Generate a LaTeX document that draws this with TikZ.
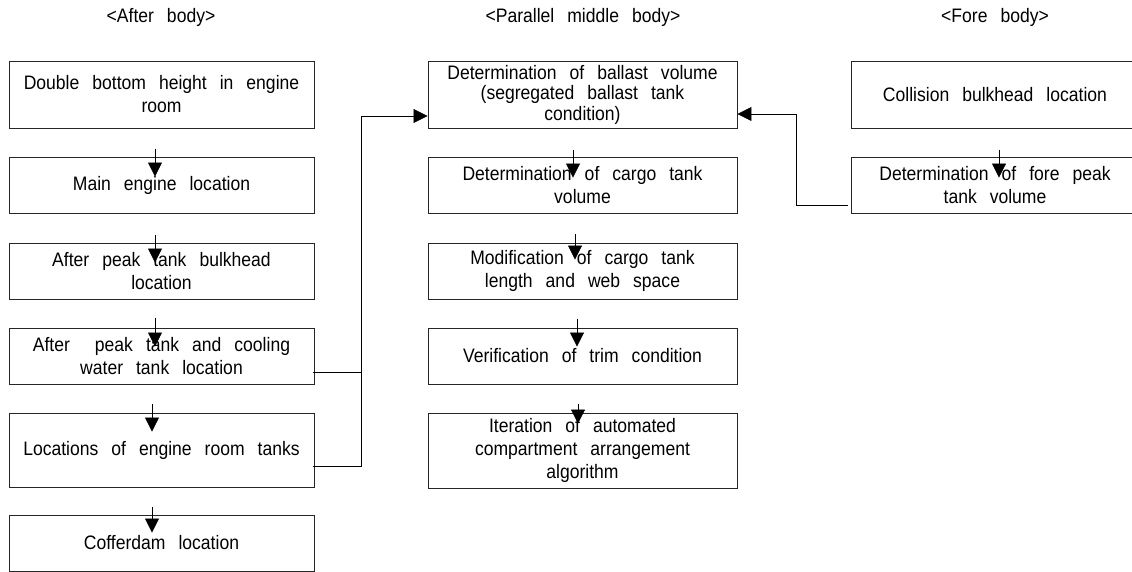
\documentclass[tikz,border=0pt]{standalone}
\usepackage{fontspec}
\setmainfont[FakeStretch=0.9]{Liberation Sans}
\usetikzlibrary{arrows.meta,calc}
\tikzset{
  box/.style={draw=black!85, line width=0.9pt, rectangle, inner sep=0pt, align=center,
    font={\fontsize{19.5}{23}\selectfont\spaceskip=13pt plus 2pt minus 2pt}},
  lbox/.style={box, minimum width=305pt},
  mbox/.style={box, minimum width=309pt},
  rbox/.style={box, minimum width=288pt},
  hdr/.style={inner sep=0pt, font={\fontsize{19.5}{22}\selectfont\spaceskip=13pt plus 2pt minus 2pt}},
  arr/.style={line width=0.8pt, -{Triangle[width=14pt,length=14pt]}},
  conn/.style={line width=0.8pt},
}
\begin{document}
\begin{tikzpicture}[x=1pt,y=-1pt]
\useasboundingbox[fill=white] (0,0) rectangle (1132,572);
\begin{scope}
\clip (0,0) rectangle (1132,572);
% headers
\node[hdr] (h1) at (161,17) {<After body>};
\node[hdr] (h2) at (583,17) {<Parallel middle body>};
\node[hdr] (h3) at (995,17) {<Fore body>};
% left column
\node[lbox, minimum height=67pt] (B1) at (161.5,94.5) {Double bottom height in engine\\room};
\node[lbox, minimum height=56pt] (B2) at (161.5,185) {Main engine location};
\node[lbox, minimum height=56pt] (B3) at (161.5,271) {After peak tank bulkhead\\location};
\node[lbox, minimum height=56pt] (B4) at (161.5,356) {After\hspace{12pt} peak tank and cooling\\water tank location};
\node[lbox, minimum height=74pt] (B5) at (161.5,450) {Locations of engine room tanks};
\node[lbox, minimum height=56pt] (B6) at (161.5,543) {Cofferdam location};
% middle column
\node[mbox, minimum height=67pt, font={\fontsize{19.5}{20.5}\selectfont\spaceskip=13pt plus 2pt minus 2pt}] (M1) at (582.5,94.5) {Determination of ballast volume\\(segregated ballast tank\\condition)};
\node[mbox, minimum height=56pt] (M2) at (582.5,185) {Determination of cargo tank\\volume};
\node[mbox, minimum height=56pt] (M3) at (582.5,271) {Modification of cargo tank\\length and web space};
\node[mbox, minimum height=56pt] (M4) at (582.5,356) {Verification of trim condition};
\node[mbox, minimum height=75pt] (M5) at (582.5,450.5) {Iteration of automated\\compartment arrangement\\algorithm};
% right column
\node[rbox, minimum height=67pt] (R1) at (995,94.5) {Collision bulkhead location};
\node[rbox, minimum height=56pt] (R2) at (995,185) {Determination of fore peak\\tank volume};
% vertical arrows (tips reach into the boxes)
\draw[arr] ($(B2.north)+(-6.5,-8)$) -- ($(B2.north)+(-6.5,20)$);
\draw[arr] ($(B3.north)+(-6.5,-8)$) -- ($(B3.north)+(-6.5,20)$);
\draw[arr] ($(B4.north)+(-6.5,-10)$) -- ($(B4.north)+(-6.5,19)$);
\draw[arr] ($(B5.north)+(-9.5,-9)$) -- ($(B5.north)+(-9.5,19)$);
\draw[arr] ($(B6.north)+(-9.5,-8)$) -- ($(B6.north)+(-9.5,18)$);
\draw[arr] ($(M2.north)+(-9.5,-7)$) -- ($(M2.north)+(-9.5,21)$);
\draw[arr] ($(M3.north)+(-7.5,-9)$) -- ($(M3.north)+(-7.5,17)$);
\draw[arr] ($(M4.north)+(-5.5,-9)$) -- ($(M4.north)+(-5.5,19)$);
\draw[arr] ($(M5.north)+(-4.5,-9)$) -- ($(M5.north)+(-4.5,11)$);
\draw[arr] ($(R2.north)+(4,-7)$) -- ($(R2.north)+(4,21)$);
% left connectors
\coordinate (J) at ($(M1.west)+(-66,21.5)$);
\draw[conn] ($(B4.east)+(-1,16)$) -- ($(B4.east)+(48,16)$);
\draw[arr] ($(B5.east)+(-1,16)$) -| (J) -- ($(M1.west)+(0,21.5)$);
% right connector
\coordinate (K) at ($(M1.east)+(59,19.5)$);
\draw[arr] ($(R2.west)+(-3,20)$) -| (K) -- ($(M1.east)+(0,19.5)$);
\end{scope}
\end{tikzpicture}
\end{document}
